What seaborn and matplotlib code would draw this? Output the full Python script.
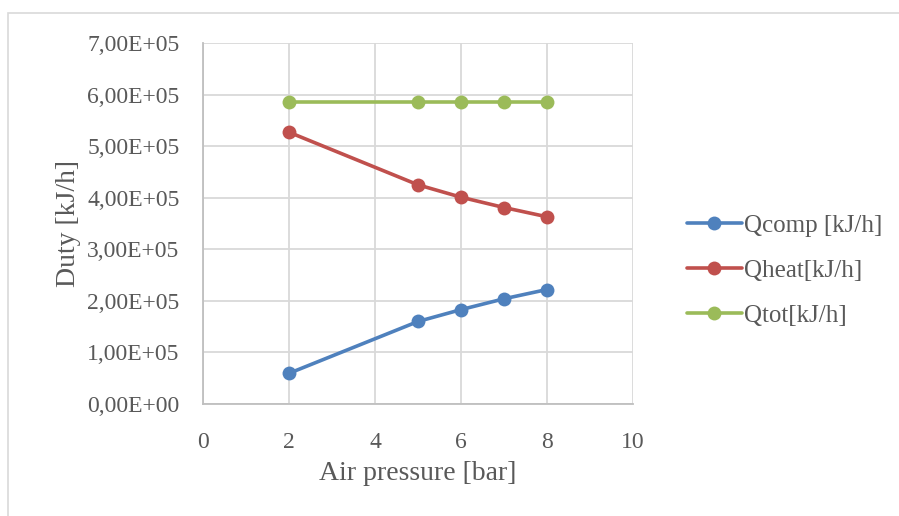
import pandas as pd
import matplotlib.pyplot as plt
import seaborn as sns
from matplotlib.ticker import FuncFormatter, MultipleLocator
from matplotlib.patches import Rectangle

# Data
pressure = [2, 5, 6, 7, 8]
q_comp = [0.595e5, 1.60e5, 1.83e5, 2.04e5, 2.22e5]
q_heat = [5.27e5, 4.25e5, 4.01e5, 3.81e5, 3.63e5]
q_tot = [5.86e5, 5.86e5, 5.86e5, 5.86e5, 5.86e5]
series_names = ["Qcomp [kJ/h]", "Qheat[kJ/h]", "Qtot[kJ/h]"]
colors = ["#4f81bd", "#c0504d", "#9bbb59"]

df = pd.concat([
    pd.DataFrame({"pressure": pressure, "duty": vals, "series": name})
    for name, vals in zip(series_names, [q_comp, q_heat, q_tot])
])

sns.set_theme(style="white")
plt.rcParams['font.family'] = ['Liberation Serif', 'DejaVu Serif']
text_color = "#595959"

fig = plt.figure(figsize=(8.99, 5.16), dpi=100)
ax = fig.add_axes([203 / 899, 112 / 516, 430 / 899, 361 / 516])

# outer chart border
fig.patches.append(Rectangle((8 / 899, -0.1), 1.2, (516 - 13) / 516 + 0.1,
                             transform=fig.transFigure, fill=False,
                             edgecolor="#d9d9d9", linewidth=1.2))

sns.lineplot(data=df, x="pressure", y="duty", hue="series", palette=colors,
             marker="o", markersize=10, markeredgewidth=0, linewidth=2.6,
             ax=ax, sort=False)

ax.set_xlim(0, 10)
ax.set_ylim(0, 7e5)
ax.xaxis.set_major_locator(MultipleLocator(2))
ax.yaxis.set_major_locator(MultipleLocator(1e5))
ax.yaxis.set_major_formatter(FuncFormatter(lambda v, p: f"{v:.2E}".replace(".", ",")))

ax.grid(True, color="#d9d9d9", linewidth=1.3)
ax.set_axisbelow(True)
for side in ["top", "right"]:
    ax.spines[side].set_visible(False)
for side in ["left", "bottom"]:
    ax.spines[side].set_color("#bfbfbf")
    ax.spines[side].set_linewidth(1.3)

ax.tick_params(axis="both", length=0, colors=text_color, labelsize=17)
ax.tick_params(axis="x", pad=20)
ax.tick_params(axis="y", pad=17)

ax.set_xlabel("Air pressure [bar]", fontsize=20, color=text_color, labelpad=6)
ax.set_ylabel("Duty [kJ/h]", fontsize=20, color=text_color, labelpad=4)

handles, labels = ax.get_legend_handles_labels()
ax.legend(handles, labels, loc="center left", bbox_to_anchor=(664 / 899, 0.475),
          bbox_transform=fig.transFigure, frameon=False, fontsize=18,
          labelcolor=text_color, handlelength=2.2, handletextpad=0.1,
          labelspacing=0.9)

fig.savefig("out.png", dpi=100)
